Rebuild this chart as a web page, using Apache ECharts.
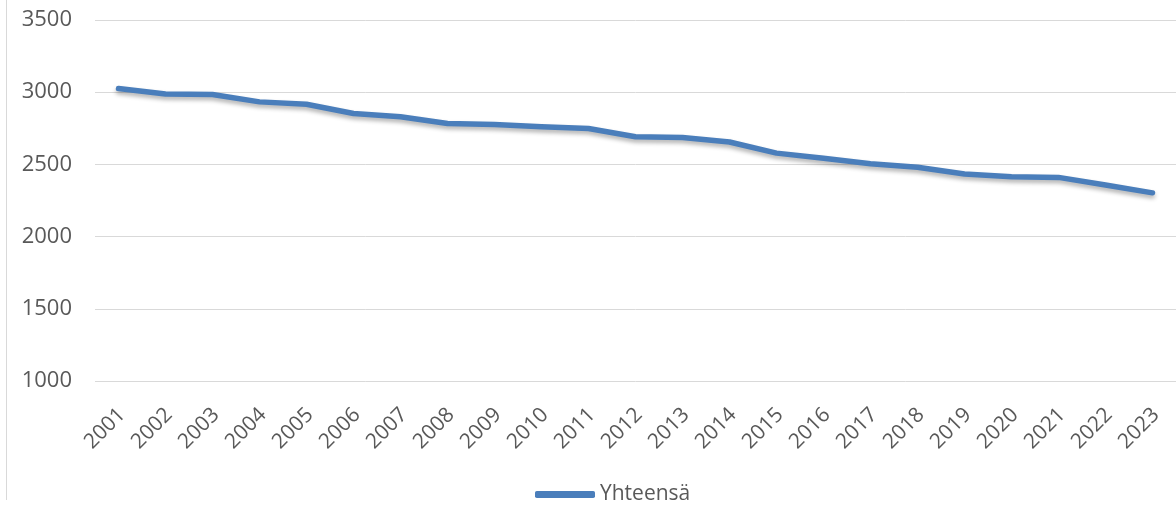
<!DOCTYPE html>
<html>
<head>
<meta charset="utf-8">
<script src="https://cdn.jsdelivr.net/npm/echarts@6/dist/echarts.min.js"></script>
<style>
  html, body { margin: 0; padding: 0; background: #fff; }
  #chart { width: 1176px; height: 505px; }
</style>
</head>
<body>
<div id="chart"></div>
<script>
var years = ['2001', '2002', '2003', '2004', '2005', '2006', '2007', '2008', '2009', '2010', '2011', '2012',
  '2013', '2014', '2015', '2016', '2017', '2018', '2019', '2020', '2021', '2022', '2023']
var yhteensa = [3025, 2988, 2984, 2933, 2917, 2853, 2830, 2783, 2776, 2760, 2749, 2691,
  2687, 2655, 2578, 2543, 2505, 2480, 2433, 2414, 2410, 2357, 2303]
var yTicks = { min: 1000, max: 3500, interval: 500 }

var chart = echarts.init(document.getElementById('chart'))
var option = {
  animation: false,
  grid: {
    left: 95,
    right: 0,
    top: 20,
    bottom: 124
  },
  graphic: [{
    type: 'line',
    shape: { x1: 6.5, y1: 0, x2: 6.5, y2: 500 },
    style: { stroke: '#d9d9d9', lineWidth: 1 }
  }],
  legend: {
    left: 530,
    top: 479,
    icon: 'roundRect',
    itemWidth: 60,
    itemHeight: 7,
    itemGap: 2,
    textStyle: {
      color: '#595959',
      fontSize: 21,
      fontFamily: 'Open Sans'
    },
    data: ['Yhteensä']
  },
  xAxis: {
    type: 'category',
    data: years,
    boundaryGap: true,
    axisLine: { show: false },
    axisTick: { show: false },
    axisLabel: {
      color: '#595959',
      fontSize: 21,
      fontFamily: 'Open Sans',
      rotate: 45,
      interval: 0,
      margin: 17,
      verticalAlign: 'top',
      lineHeight: 24,
      padding: [0, 7, 0, 0]
    }
  },
  yAxis: {
    type: 'value',
    min: yTicks.min,
    max: yTicks.max,
    interval: yTicks.interval,
    axisLine: { show: false },
    axisTick: { show: false },
    splitLine: {
      lineStyle: { color: '#d9d9d9', width: 1 }
    },
    axisLabel: {
      color: '#595959',
      fontSize: 22,
      fontFamily: 'Open Sans',
      margin: 23,
      formatter: function (v) { return String(v) }
    }
  },
  series: [{
    name: 'Yhteensä',
    type: 'line',
    data: yhteensa,
    symbol: 'none',
    itemStyle: { color: '#4a7ebb' },
    lineStyle: {
      color: '#4a7ebb',
      width: 5.5,
      cap: 'round',
      join: 'round',
      shadowColor: 'rgba(0,0,0,0.3)',
      shadowBlur: 4,
      shadowOffsetY: 3
    }
  }]
}
chart.setOption(option)
</script>
</body>
</html>
